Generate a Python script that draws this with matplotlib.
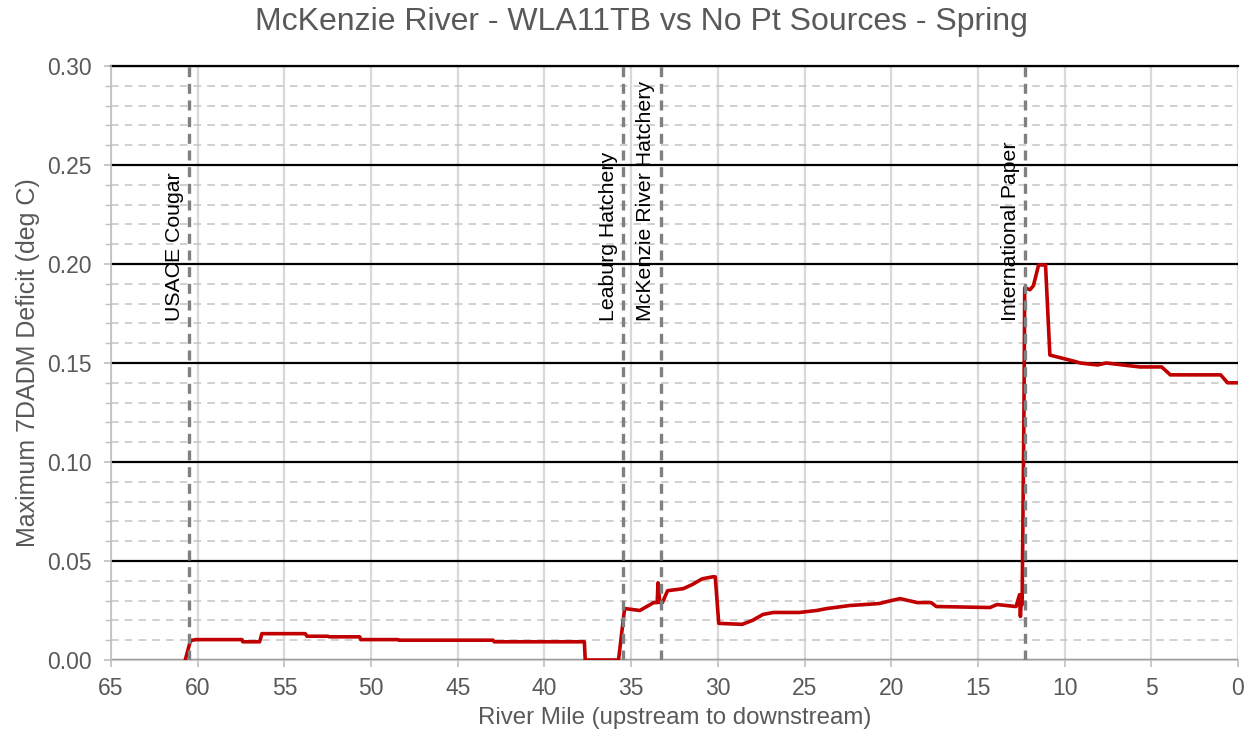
import matplotlib
matplotlib.use("Agg")
import matplotlib.pyplot as plt
from matplotlib.ticker import MultipleLocator, FormatStrFormatter

# river mile (upstream -> downstream) and max 7DADM deficit (deg C)
river_mile = [60.72, 60.42, 60.1, 57.45, 57.4, 56.43, 56.3, 53.8, 53.7, 52.5, 52.4,
              50.66, 50.6, 48.45, 48.4, 42.97, 42.9, 37.7, 37.65, 35.73, 35.38,
              34.5, 33.7, 33.5, 33.45, 33.35, 33.2, 32.9, 32.0, 31.5, 30.9, 30.3,
              30.15, 29.95, 28.6, 28.0, 27.4, 26.8, 25.3, 24.3, 23.7, 22.4, 20.7,
              20.0, 19.5, 18.5, 17.7, 17.4, 14.3, 13.9, 12.8, 12.6, 12.55, 12.5,
              12.45, 12.35, 12.3, 12.0, 11.8, 11.5, 11.1, 10.85, 10.4, 9.5, 9.1,
              8.1, 7.6, 6.65, 5.65, 4.4, 3.9, 1.0, 0.6, 0.0]
deficit = [0.0, 0.0098, 0.0103, 0.0103, 0.0092, 0.0092, 0.0133, 0.0133, 0.012, 0.012,
           0.0117, 0.0117, 0.0103, 0.0103, 0.010, 0.010, 0.0092, 0.0092, 0.0, 0.0,
           0.026, 0.025, 0.029, 0.029, 0.039, 0.029, 0.029, 0.035, 0.036, 0.038,
           0.041, 0.042, 0.042, 0.0185, 0.018, 0.020, 0.023, 0.024, 0.024, 0.025,
           0.026, 0.0275, 0.0285, 0.030, 0.031, 0.029, 0.029, 0.027, 0.0265, 0.028,
           0.027, 0.033, 0.022, 0.030, 0.028, 0.12, 0.188, 0.187, 0.189, 0.1995,
           0.1995, 0.154, 0.153, 0.151, 0.150, 0.149, 0.150, 0.149, 0.148, 0.148,
           0.144, 0.144, 0.140, 0.140]

source_names = ["USACE Cougar", "Leaburg Hatchery", "McKenzie River Hatchery", "International Paper"]
source_miles = [60.5, 35.47, 33.3, 12.3]

gray_text = "#595959"
plt.rcParams["font.family"] = ["Liberation Sans", "DejaVu Sans"]

fig = plt.figure(figsize=(12.52, 7.38), dpi=100)
ax = fig.add_axes([0.0887, 0.1057, 0.9001, 0.8049])

ax.plot(river_mile, deficit, color="#C00000", lw=2.6, zorder=4, solid_joinstyle="round")

for name, mile in zip(source_names, source_miles):
    ax.axvline(mile, color="#808080", lw=2.4, ls=(0, (3, 2)), zorder=5)
    ax.text(mile + 0.3, 0.171, name, rotation=90, ha="right", va="bottom",
            fontsize=15.3, color="black", zorder=6)

ax.set_xlim(65, 0)
ax.set_ylim(0, 0.30)
ax.xaxis.set_major_locator(MultipleLocator(5))
ax.yaxis.set_major_locator(MultipleLocator(0.05))
ax.yaxis.set_minor_locator(MultipleLocator(0.01))
ax.yaxis.set_major_formatter(FormatStrFormatter("%.2f"))

ax.grid(True, which="major", axis="y", color="black", lw=1.6, zorder=1)
ax.grid(True, which="minor", axis="y", color="#c4c4c4", lw=1.1, ls=(0, (5, 4)), zorder=1)
ax.grid(True, which="major", axis="x", color="#d9d9d9", lw=1.6, zorder=0)
ax.axhline(0.30, color="black", lw=1.6, clip_on=False, zorder=1)
ax.set_axisbelow(True)

for side in ["top", "right"]:
    ax.spines[side].set_visible(False)
for side in ["left", "bottom"]:
    ax.spines[side].set_color("#bfbfbf")
    ax.spines[side].set_linewidth(1.2)

ax.tick_params(axis="both", which="major", colors="#bfbfbf", labelcolor=gray_text,
               labelsize=16.5, length=5, width=1.2)
ax.tick_params(axis="x", which="major", pad=7)
ax.tick_params(axis="y", which="major", pad=9)
ax.tick_params(axis="y", which="minor", colors="#bfbfbf", length=4, width=1.0)

fig.text(0.512, 0.970, "McKenzie River - WLA11TB vs No Pt Sources - Spring", fontsize=23,
         color=gray_text, ha="center", va="center")
ax.set_xlabel("River Mile (upstream to downstream)", fontsize=17.3, color=gray_text, labelpad=5)
ax.set_ylabel("Maximum 7DADM Deficit (deg C)", fontsize=18, color=gray_text, labelpad=5)

fig.savefig("out.png", dpi=100)
